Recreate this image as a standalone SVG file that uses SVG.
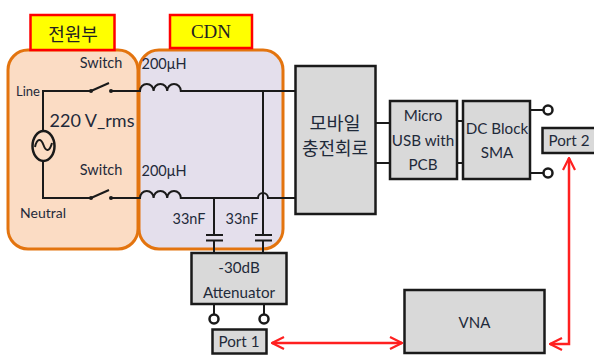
<svg xmlns="http://www.w3.org/2000/svg" width="594" height="356" viewBox="0 0 594 356">
<style>
text{font-family:Lato,"Noto Sans CJK KR",sans-serif;fill:#1f2a3a;text-anchor:middle}
.region{stroke:#e3740f;stroke-width:3}
.tag{fill:#ffff00;stroke:#ff0000;stroke-width:2.5}
.box{fill:#d9d9d9;stroke:#1a1a1a;stroke-width:2.5}
.w{fill:none;stroke:#1a1a1a;stroke-width:2}
.t{fill:#fff;stroke:#1a1a1a;stroke-width:2.5}
.dot{fill:#1a1a1a}
.red{fill:none;stroke:#ff2020;stroke-width:2.5}
.s13{font-size:14.500px}.s15{font-size:15.200px}
</style>
<defs>
<marker id="ah" viewBox="0 0 14 14" refX="13" refY="7" markerWidth="14" markerHeight="14" markerUnits="userSpaceOnUse" orient="auto-start-reverse"><path d="M1 1L13 7L1 13" fill="none" stroke="#ff2020" stroke-width="2.2"/></marker>
</defs>
<g id="region-power"><rect class="region" x="8" y="50" width="130" height="199" rx="20" fill="#fbdcc4"/></g>
<g id="region-cdn"><rect class="region" x="139" y="50" width="144" height="199" rx="20" fill="#e4dfec"/></g>
<g id="tag-power"><rect class="tag" x="30.500" y="15" width="84" height="35"/><text x="73" y="41" font-size="18" style="fill:#222">전원부</text></g>
<g id="tag-cdn"><rect class="tag" x="170" y="15" width="82" height="33"/><text x="211" y="38" style="font-family:'Liberation Serif',serif;font-size:19px;fill:#222">CDN</text></g>
<g id="connectors">
<path class="w" d="M43 130V91H91M91 91L109 83M111 91H140a6.800 7 0 0 1 13.600 0a6.800 7 0 0 1 13.600 0a6.800 7 0 0 1 13.600 0H295"/>
<path class="w" d="M43 161V198H91M91 198L109 190M111 198H140a6.800 7 0 0 1 13.600 0a6.800 7 0 0 1 13.600 0a6.800 7 0 0 1 13.600 0H258a5 5 0 0 1 10 0H295"/>
<path class="w" d="M263 91V235M214 198V235M206 235H223M206 240.500H223M255 235H272M255 240.500H272M214 240.500V253M263 240.500V253"/>
<path class="w" d="M375 123H390M375 163H390M457 121H463M457 163H463M530 110H544M530 173H544M214 304V314M264 304V314"/>
<circle class="dot" cx="91" cy="91" r="2"/><circle class="dot" cx="111" cy="91" r="2"/><circle class="dot" cx="91" cy="198" r="2"/><circle class="dot" cx="111" cy="198" r="2"/>
<ellipse cx="43.500" cy="146" rx="11" ry="15" fill="none" stroke="#1a1a1a" stroke-width="2.500"/>
<path class="w" d="M35 147c2-9 6-9 8.500-2s6 7 8.500-2"/>
<path class="red" d="M272 343H402" marker-start="url(#ah)" marker-end="url(#ah)"/>
<path class="red" d="M569 158V344H550" marker-start="url(#ah)" marker-end="url(#ah)"/>
<circle class="t" cx="548" cy="110" r="4.500"/><circle class="t" cx="548" cy="173" r="4.500"/>
<circle class="t" cx="214" cy="319" r="4.500"/><circle class="t" cx="264" cy="319" r="4.500"/>
</g>
<g id="labels">
<text class="s13" x="101" y="68">Switch</text>
<text class="s13" x="101" y="175">Switch</text>
<text x="28" y="96" font-size="13">Line</text>
<text x="43" y="218" font-size="14">Neutral</text>
<text x="92" y="127" font-size="18">220 V_rms</text>
<text class="s13" x="164" y="69">200μH</text>
<text class="s13" x="164" y="176">200μH</text>
<text class="s13" x="189" y="224">33nF</text>
<text class="s13" x="242" y="224">33nF</text>
</g>
<g id="mobile"><rect class="box" x="295.500" y="66" width="80" height="148"/><text x="335" y="130" font-size="18.500">모바일</text><text x="335" y="155" font-size="18">충전회로</text></g>
<g id="usb"><rect class="box" x="390" y="101" width="67" height="78"/><text class="s15" x="423" y="121">Micro</text><text class="s15" x="423" y="146">USB with</text><text class="s15" x="423" y="170">PCB</text></g>
<g id="dcblock"><rect class="box" x="463" y="101" width="67" height="78"/><text class="s15" x="497" y="134">DC Block</text><text class="s15" x="497" y="158">SMA</text></g>
<g id="port2"><rect class="box" x="542.500" y="128" width="54" height="25"/><text class="s15" x="569" y="146">Port 2</text></g>
<g id="attenuator"><rect class="box" x="191.500" y="253" width="95" height="51"/><text class="s15" x="239" y="273">-30dB</text><text class="s15" x="239" y="298">Attenuator</text></g>
<g id="port1"><rect class="box" x="212.500" y="329.500" width="54" height="24"/><text class="s15" x="239" y="347">Port 1</text></g>
<g id="vna"><rect class="box" x="404.500" y="290" width="140" height="63"/><text x="474.500" y="328" font-size="15">VNA</text></g>
</svg>
